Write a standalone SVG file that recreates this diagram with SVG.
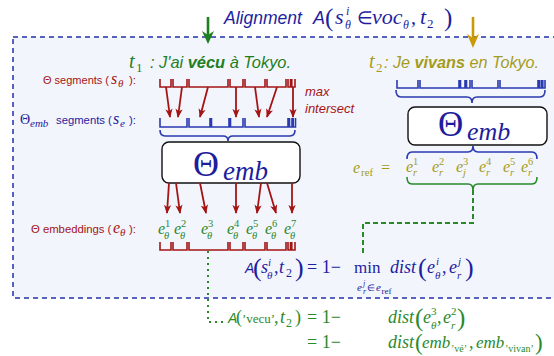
<svg xmlns="http://www.w3.org/2000/svg" width="554" height="356" viewBox="0 0 554 356">
<style>
.sans{font-family:"Liberation Sans",Arial,sans-serif}
.it{font-style:italic}
.b{font-weight:bold}
.m{font-family:"Liberation Serif","Times New Roman",serif;font-style:italic}
.r{font-family:"Liberation Serif","Times New Roman",serif;font-style:normal}
.dblue{fill:#1d1d9e}
.red{fill:#a31414}
.green{fill:#1f7f1f}
.lg{fill:#2b8a2b}
.olive{fill:#a49c1c}
.brR{fill:none;stroke:#a31414;stroke-width:1.6}
.brB{fill:none;stroke:#2a3ab0;stroke-width:1.6}
.brG{fill:none;stroke:#2a8a2a;stroke-width:1.6}
.arR{stroke:#a31414;stroke-width:1.8;marker-end:url(#rh)}
.box{fill:#ffffff;stroke:#111;stroke-width:1.4}
</style>
<defs>
<marker id="rh" viewBox="0 0 10 8" refX="9" refY="4" markerWidth="9" markerHeight="7.5" markerUnits="userSpaceOnUse" orient="auto"><path d="M0,0 L10,4 L0,8 L2.5,4 z" fill="#a31414"/></marker>
</defs>
<rect width="554" height="356" fill="#ffffff"/>
<rect id="frame" x="13" y="37" width="548" height="261" fill="#f3f5fd" stroke="#2030a8" stroke-width="1.5" stroke-dasharray="5 4"/>

<g id="title">
<text x="224" y="24" class="sans it dblue" font-size="17.5">Alignment</text>
<text x="313" y="24" class="sans it dblue" font-size="18">A</text>
<text x="325" y="26" class="r dblue" font-size="25">(</text>
<text x="335" y="24" class="m dblue" font-size="22">s</text>
<text x="346" y="15" class="m dblue" font-size="12">i</text>
<text x="345" y="29" class="m dblue" font-size="12">θ</text>
<text x="357" y="24" class="r dblue" font-size="18">∈</text>
<text x="372" y="24" class="m dblue" font-size="22">voc</text>
<text x="403" y="29" class="m dblue" font-size="12">θ</text>
<text x="411" y="24" class="r dblue" font-size="20">,</text>
<text x="420" y="24" class="m dblue" font-size="22">t</text>
<text x="427" y="28" class="r dblue" font-size="13">2</text>
<text x="444" y="26" class="r dblue" font-size="25">)</text>
</g>

<g id="arrow-t1"><line x1="208" y1="17" x2="208" y2="35" stroke="#1f7f1f" stroke-width="2.6"/><path d="M202,31 L208,35 L214,31 L208,44 z" fill="#1f7f1f"/></g>
<g id="arrow-t2"><line x1="473" y1="17" x2="473" y2="38" stroke="#c99a06" stroke-width="2.6"/><path d="M467,34 L473,38 L479,34 L473,48 z" fill="#c99a06"/></g>

<g id="t1">
<text x="129" y="68" class="m green" font-size="20">t</text>
<text x="136" y="72" class="r green" font-size="13">1</text>
<text x="150" y="68" class="sans it green" font-size="16.4">: J'ai <tspan class="b">vécu</tspan> à Tokyo.</text>
</g>
<g id="t2">
<text x="369" y="68" class="m olive" font-size="20">t</text>
<text x="376" y="72" class="r olive" font-size="13">2</text>
<text x="384" y="68" class="sans it olive" font-size="16.2">: Je <tspan class="b">vivans</tspan> en Tokyo.</text>
</g>

<g id="labels">
<text x="43" y="84" class="sans red" font-size="11">Θ segments (</text>
<text x="111" y="84" class="m red" font-size="16">s</text>
<text x="118" y="87" class="m red" font-size="11">θ</text>
<text x="129" y="84" class="sans red" font-size="11.5">):</text>

<text x="20" y="124" class="r dblue" font-size="14">Θ</text>
<text x="30" y="127" class="m dblue" font-size="11">emb</text>
<text x="56" y="124" class="sans dblue" font-size="11.3">segments (</text>
<text x="113" y="124" class="m dblue" font-size="16">s</text>
<text x="120" y="127" class="m dblue" font-size="11">e</text>
<text x="129" y="124" class="sans dblue" font-size="11.5">):</text>

<text x="31" y="233" class="sans red" font-size="11.3">Θ embeddings (</text>
<text x="113" y="233" class="m red" font-size="16">e</text>
<text x="120" y="236" class="m red" font-size="11">θ</text>
<text x="129" y="233" class="sans red" font-size="11.5">):</text>

<text x="305" y="96" class="sans it red" font-size="13">max</text>
<text x="305" y="113" class="sans it red" font-size="13">intersect</text>
</g>

<g id="s-theta-top">
<path class="brR" d="M160,79V87H171V79 M173,79V87H187V79 M189,79V87H228V79 M230,79V87H243V79 M245,79V87H265V79 M267,79V87H286V79 M288,79V87H290.5V79 M291.8,79V87H295V79"/>
</g>
<g id="s-e-left">
<path class="brB" d="M160,118V127H187V118 M189,118V127H210V118 M211.5,118V127H229V118 M230.5,118V127H243V118 M245,118V127H288V118 M289.5,118V127H292V118 M293.2,118V127H295.5V118"/>
<path class="brB" d="M160,130 Q160,136 165,136 H223 Q228,136 228,141 Q228,136 233,136 H290 Q295,136 295,130"/>
</g>
<g id="s-e-right">
<path class="brB" d="M397,80V88H418V80 M420,80V88H459V80 M460.5,80V88H465V80 M466.5,80V88H470V80 M472,80V88H498V80 M500,80V88H538V80 M539.5,80V88H541.5V80 M542.8,80V88H545V80"/>
<path class="brB" d="M396,90 Q396,97 401,97 H467 Q472,97 472,103 Q472,97 477,97 H540 Q545,97 545,90"/>
</g>

<g id="theta-emb-left">
<rect class="box" x="162" y="142" width="138" height="41" rx="7"/>
<text x="193" y="176" class="r dblue" font-size="36">Θ</text>
<text x="223" y="180" class="m dblue" font-size="27">emb</text>
</g>
<g id="theta-emb-right">
<rect class="box" x="408" y="107" width="139" height="38" rx="7"/>
<text x="438" y="136" class="r dblue" font-size="35">Θ</text>
<text x="467" y="140" class="m dblue" font-size="26">emb</text>
</g>

<g id="e-ref">
<path class="brB" d="M407,159 Q407,152 412,152 H468 Q473,152 473,146 Q473,152 478,152 H532 Q537,152 537,159"/>
<text x="353" y="173" class="m olive" font-size="16">e</text>
<text x="361" y="176" class="r olive" font-size="11">ref</text>
<text x="381" y="173" class="r olive" font-size="16">=</text>
<text class="m olive" font-size="16"><tspan x="406" y="172">e</tspan><tspan x="432" y="172">e</tspan><tspan x="456" y="172">e</tspan><tspan x="479" y="172">e</tspan><tspan x="503" y="172">e</tspan><tspan x="521" y="172">e</tspan></text>
<text class="r olive" font-size="10.5"><tspan x="413" y="165">1</tspan><tspan x="439" y="165">2</tspan><tspan x="463" y="165">3</tspan><tspan x="486" y="165">4</tspan><tspan x="510" y="165">5</tspan><tspan x="528" y="165">6</tspan></text>
<text class="m olive" font-size="10.5"><tspan x="413" y="176">r</tspan><tspan x="439" y="176">r</tspan><tspan x="463" y="176">j</tspan><tspan x="486" y="176">r</tspan><tspan x="510" y="176">r</tspan><tspan x="528" y="176">r</tspan></text>
<path class="brG" d="M407,177 Q407,184 412,184 H468 Q473,184 473,190 Q473,184 478,184 H532 Q537,184 537,177"/>
</g>

<g id="e-theta">
<text class="m lg" font-size="16"><tspan x="158" y="234">e</tspan><tspan x="174" y="234">e</tspan><tspan x="201" y="234">e</tspan><tspan x="227" y="234">e</tspan><tspan x="246" y="234">e</tspan><tspan x="265" y="234">e</tspan><tspan x="284" y="234">e</tspan></text>
<text class="r lg" font-size="10.5"><tspan x="165" y="227">1</tspan><tspan x="181" y="227">2</tspan><tspan x="208" y="227">3</tspan><tspan x="234" y="227">4</tspan><tspan x="253" y="227">5</tspan><tspan x="272" y="227">6</tspan><tspan x="291" y="227">7</tspan></text>
<text class="m lg" font-size="10.5"><tspan x="164" y="239">θ</tspan><tspan x="180" y="239">θ</tspan><tspan x="207" y="239">θ</tspan><tspan x="233" y="239">θ</tspan><tspan x="252" y="239">θ</tspan><tspan x="271" y="239">θ</tspan><tspan x="290" y="239">θ</tspan></text>
<path class="brR" d="M160,242V250H171V242 M173,242V250H187V242 M189,242V250H228V242 M230,242V250H243V242 M245,242V250H265V242 M267,242V250H286V242 M288,242V250H290.5V242 M291.8,242V250H295V242"/>
</g>

<g id="connectors">
<line class="arR" x1="166" y1="87" x2="170" y2="117"/>
<line class="arR" x1="182" y1="87" x2="178" y2="117"/>
<line class="arR" x1="208" y1="87" x2="200" y2="117"/>
<line class="arR" x1="236" y1="87" x2="236" y2="117"/>
<line class="arR" x1="255" y1="87" x2="259" y2="117"/>
<line class="arR" x1="277" y1="87" x2="267" y2="117"/>
<line class="arR" x1="293" y1="87" x2="293" y2="117"/>
<line class="arR" x1="169" y1="183" x2="167" y2="213"/>
<line class="arR" x1="176" y1="183" x2="180" y2="213"/>
<line class="arR" x1="200" y1="183" x2="206" y2="213"/>
<line class="arR" x1="236" y1="183" x2="236" y2="213"/>
<line class="arR" x1="261" y1="183" x2="257" y2="213"/>
<line class="arR" x1="267" y1="183" x2="276" y2="213"/>
<line class="arR" x1="292" y1="183" x2="292" y2="213"/>
<path d="M473,190 V223 H363 V256" fill="none" stroke="#2a8a2a" stroke-width="2" stroke-dasharray="5 3"/>
<path d="M208,251 V322 H224" fill="none" stroke="#2a8a2a" stroke-width="2" stroke-dasharray="2 4"/>
</g>

<g id="formula-general">
<text x="245" y="273" class="sans it dblue" font-size="14">A</text>
<text x="253" y="276" class="r dblue" font-size="26">(</text>
<text x="261" y="273" class="m dblue" font-size="18">s</text>
<text x="268" y="266" class="m dblue" font-size="11">i</text>
<text x="267" y="279" class="m dblue" font-size="11">θ</text>
<text x="274" y="273" class="r dblue" font-size="18">,</text>
<text x="279" y="273" class="m dblue" font-size="18">t</text>
<text x="286" y="277" class="r dblue" font-size="12">2</text>
<text x="295" y="276" class="r dblue" font-size="26">)</text>
<text x="307" y="273" class="r dblue" font-size="18">= 1−</text>
<text x="354" y="273" class="r dblue" font-size="17">min</text>
<text x="357" y="291" class="m dblue" font-size="11">e</text>
<text x="363" y="286" class="m dblue" font-size="8">j</text>
<text x="363" y="294" class="m dblue" font-size="8">r</text>
<text x="367" y="291" class="r dblue" font-size="9">∈</text>
<text x="376" y="291" class="m dblue" font-size="11">e</text>
<text x="381.5" y="294" class="r dblue" font-size="9">ref</text>
<text x="390" y="273" class="m dblue" font-size="18">dist</text>
<text x="418" y="276" class="r dblue" font-size="26">(</text>
<text x="427" y="273" class="m dblue" font-size="18">e</text>
<text x="436" y="265" class="m dblue" font-size="11">i</text>
<text x="435" y="279" class="m dblue" font-size="11">θ</text>
<text x="442" y="273" class="r dblue" font-size="18">,</text>
<text x="449" y="273" class="m dblue" font-size="18">e</text>
<text x="458" y="265" class="m dblue" font-size="11">j</text>
<text x="457" y="279" class="m dblue" font-size="11">r</text>
<text x="465" y="276" class="r dblue" font-size="26">)</text>
</g>

<g id="formula-example">
<text x="228" y="323" class="sans it lg" font-size="14">A</text>
<text x="236" y="323" class="r lg" font-size="18">(</text>
<text x="242" y="323" class="r lg" font-size="13">’vecu’</text>
<text x="274" y="323" class="r lg" font-size="18">,</text>
<text x="280" y="323" class="m lg" font-size="18">t</text>
<text x="286" y="327" class="r lg" font-size="12">2</text>
<text x="295" y="323" class="r lg" font-size="18">)</text>
<text x="307" y="323" class="r lg" font-size="18">= 1−</text>
<text x="388" y="323" class="m lg" font-size="18">dist</text>
<text x="415" y="326" class="r lg" font-size="25">(</text>
<text x="423" y="323" class="m lg" font-size="18">e</text>
<text x="431" y="315" class="r lg" font-size="11">3</text>
<text x="431" y="329" class="m lg" font-size="11">θ</text>
<text x="437" y="323" class="r lg" font-size="18">,</text>
<text x="443" y="323" class="m lg" font-size="18">e</text>
<text x="451" y="315" class="r lg" font-size="11">2</text>
<text x="451" y="329" class="m lg" font-size="11">r</text>
<text x="457" y="326" class="r lg" font-size="25">)</text>
<text x="307" y="348" class="r lg" font-size="18">= 1−</text>
<text x="388" y="348" class="m lg" font-size="18">dist</text>
<text x="415" y="350" class="r lg" font-size="23">(</text>
<text x="422" y="348" class="m lg" font-size="17">emb</text>
<text x="451" y="352" class="r lg" font-size="10">’vé’</text>
<text x="469" y="348" class="r lg" font-size="18">,</text>
<text x="476" y="348" class="m lg" font-size="17">emb</text>
<text x="505" y="352" class="r lg" font-size="10">’vivan’</text>
<text x="535" y="350" class="r lg" font-size="23">)</text>
</g>
</svg>
